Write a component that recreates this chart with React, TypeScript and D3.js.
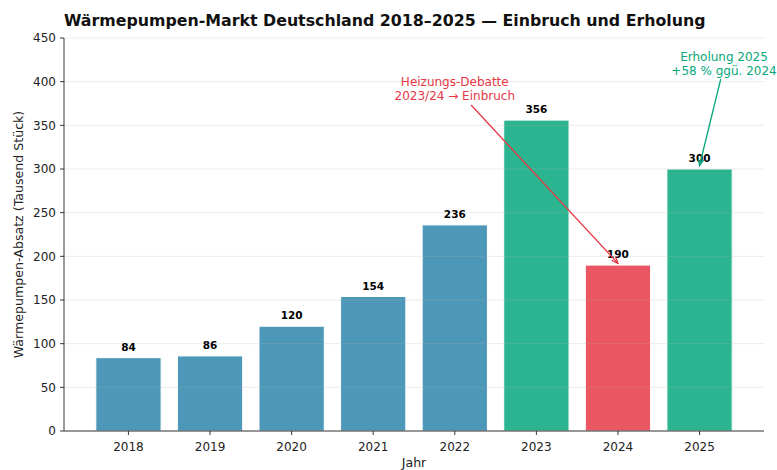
import React from "react";
import * as d3 from "d3";

const years = ["2018", "2019", "2020", "2021", "2022", "2023", "2024", "2025"];
const sales = [84, 86, 120, 154, 236, 356, 190, 300];
const barKinds = ["base", "base", "base", "base", "base", "peak", "drop", "peak"];
const yTicks = [0, 50, 100, 150, 200, 250, 300, 350, 400, 450];

const title = "Wärmepumpen-Markt Deutschland 2018–2025 — Einbruch und Erholung";
const yLabel = "Wärmepumpen-Absatz (Tausend Stück)";
const xLabel = "Jahr";
const noteDrop = ["Heizungs-Debatte", "2023/24 → Einbruch"];
const noteRise = ["Erholung 2025", "+58 % ggü. 2024"];

const colors: Record<string, string> = { base: "#2E86AB", peak: "#06A77D", drop: "#E63946" };

const W = 777, H = 470;
const M = { left: 64, right: 764, top: 38, bottom: 431 };
const FONT = "DejaVu Sans, sans-serif";

export default function App() {
  const x = d3.scaleLinear().domain([-0.79, 7.79]).range([M.left, M.right]);
  const y = d3.scaleLinear().domain([0, 450]).range([M.bottom, M.top]);
  const bw = x(0.4) - x(-0.4);

  const arrow = (x1: number, y1: number, x2: number, y2: number, color: string) => {
    const ang = Math.atan2(y2 - y1, x2 - x1);
    const L = 7, a = 0.4;
    const p1 = [x2 - L * Math.cos(ang - a), y2 - L * Math.sin(ang - a)];
    const p2 = [x2 - L * Math.cos(ang + a), y2 - L * Math.sin(ang + a)];
    return (
      <g stroke={color} strokeWidth={1.3} fill="none">
        <line x1={x1} y1={y1} x2={x2} y2={y2} />
        <path d={`M${p1[0]},${p1[1]} L${x2},${y2} L${p2[0]},${p2[1]}`} />
      </g>
    );
  };

  return (
    <div style={{ position: "fixed", left: 0, top: 0 }}>
      <svg width={W} height={H} style={{ display: "block", background: "#fff" }} fontFamily={FONT}>
        {/* bars */}
        {years.map((yr, i) => (
          <rect key={yr} x={x(i) - bw / 2} y={y(sales[i])} width={bw} height={y(0) - y(sales[i])}
            fill={colors[barKinds[i]]} fillOpacity={0.85} stroke="#fff" strokeWidth={1} />
        ))}
        {/* grid on top */}
        {yTicks.map(t => (
          <line key={t} x1={M.left} x2={M.right} y1={y(t)} y2={y(t)} stroke="#b0b0b0" strokeOpacity={0.3} strokeWidth={0.8} />
        ))}
        {/* value labels */}
        {years.map((yr, i) => (
          <text key={yr} x={x(i)} y={y(sales[i]) - 7} textAnchor="middle" fontSize={10.5} fontWeight="bold" fill="#000">
            {sales[i]}
          </text>
        ))}
        {/* spines */}
        <line x1={M.left} x2={M.left} y1={M.top} y2={M.bottom} stroke="#222" strokeWidth={0.9} />
        <line x1={M.left} x2={M.right} y1={M.bottom} y2={M.bottom} stroke="#222" strokeWidth={0.9} />
        {/* y ticks */}
        {yTicks.map(t => (
          <g key={t}>
            <line x1={M.left - 4} x2={M.left} y1={y(t)} y2={y(t)} stroke="#222" strokeWidth={0.9} />
            <text x={M.left - 8} y={y(t)} dy="0.35em" textAnchor="end" fontSize={12} fill="#222">{t}</text>
          </g>
        ))}
        {/* x ticks */}
        {years.map((yr, i) => (
          <g key={yr}>
            <line x1={x(i)} x2={x(i)} y1={M.bottom} y2={M.bottom + 4} stroke="#222" strokeWidth={0.9} />
            <text x={x(i)} y={M.bottom + 20} textAnchor="middle" fontSize={12} fill="#222">{yr}</text>
          </g>
        ))}
        {/* axis labels */}
        <text transform={`translate(23,${(M.top + M.bottom) / 2}) rotate(-90)`} textAnchor="middle" fontSize={12.6} fill="#222">{yLabel}</text>
        <text x={(M.left + M.right) / 2} y={467} textAnchor="middle" fontSize={12.6} fill="#222">{xLabel}</text>
        {/* title */}
        <text x={M.left} y={26} fontSize={15.8} fontWeight="bold" fill="#111">{title}</text>
        {/* annotations */}
        {noteDrop.map((l, k) => (
          <text key={l} x={x(4)} y={86 + k * 14} textAnchor="middle" fontSize={12} fill="#E63946">{l}</text>
        ))}
        {arrow(x(4.2), 105, x(6), y(192), "#E63946")}
        {noteRise.map((l, k) => (
          <text key={l} x={x(7.3)} y={61 + k * 13.5} textAnchor="middle" fontSize={12} fill="#06A77D">{l}</text>
        ))}
        {arrow(x(7.26), 79, x(7), y(304), "#06A77D")}
      </svg>
    </div>
  );
}
